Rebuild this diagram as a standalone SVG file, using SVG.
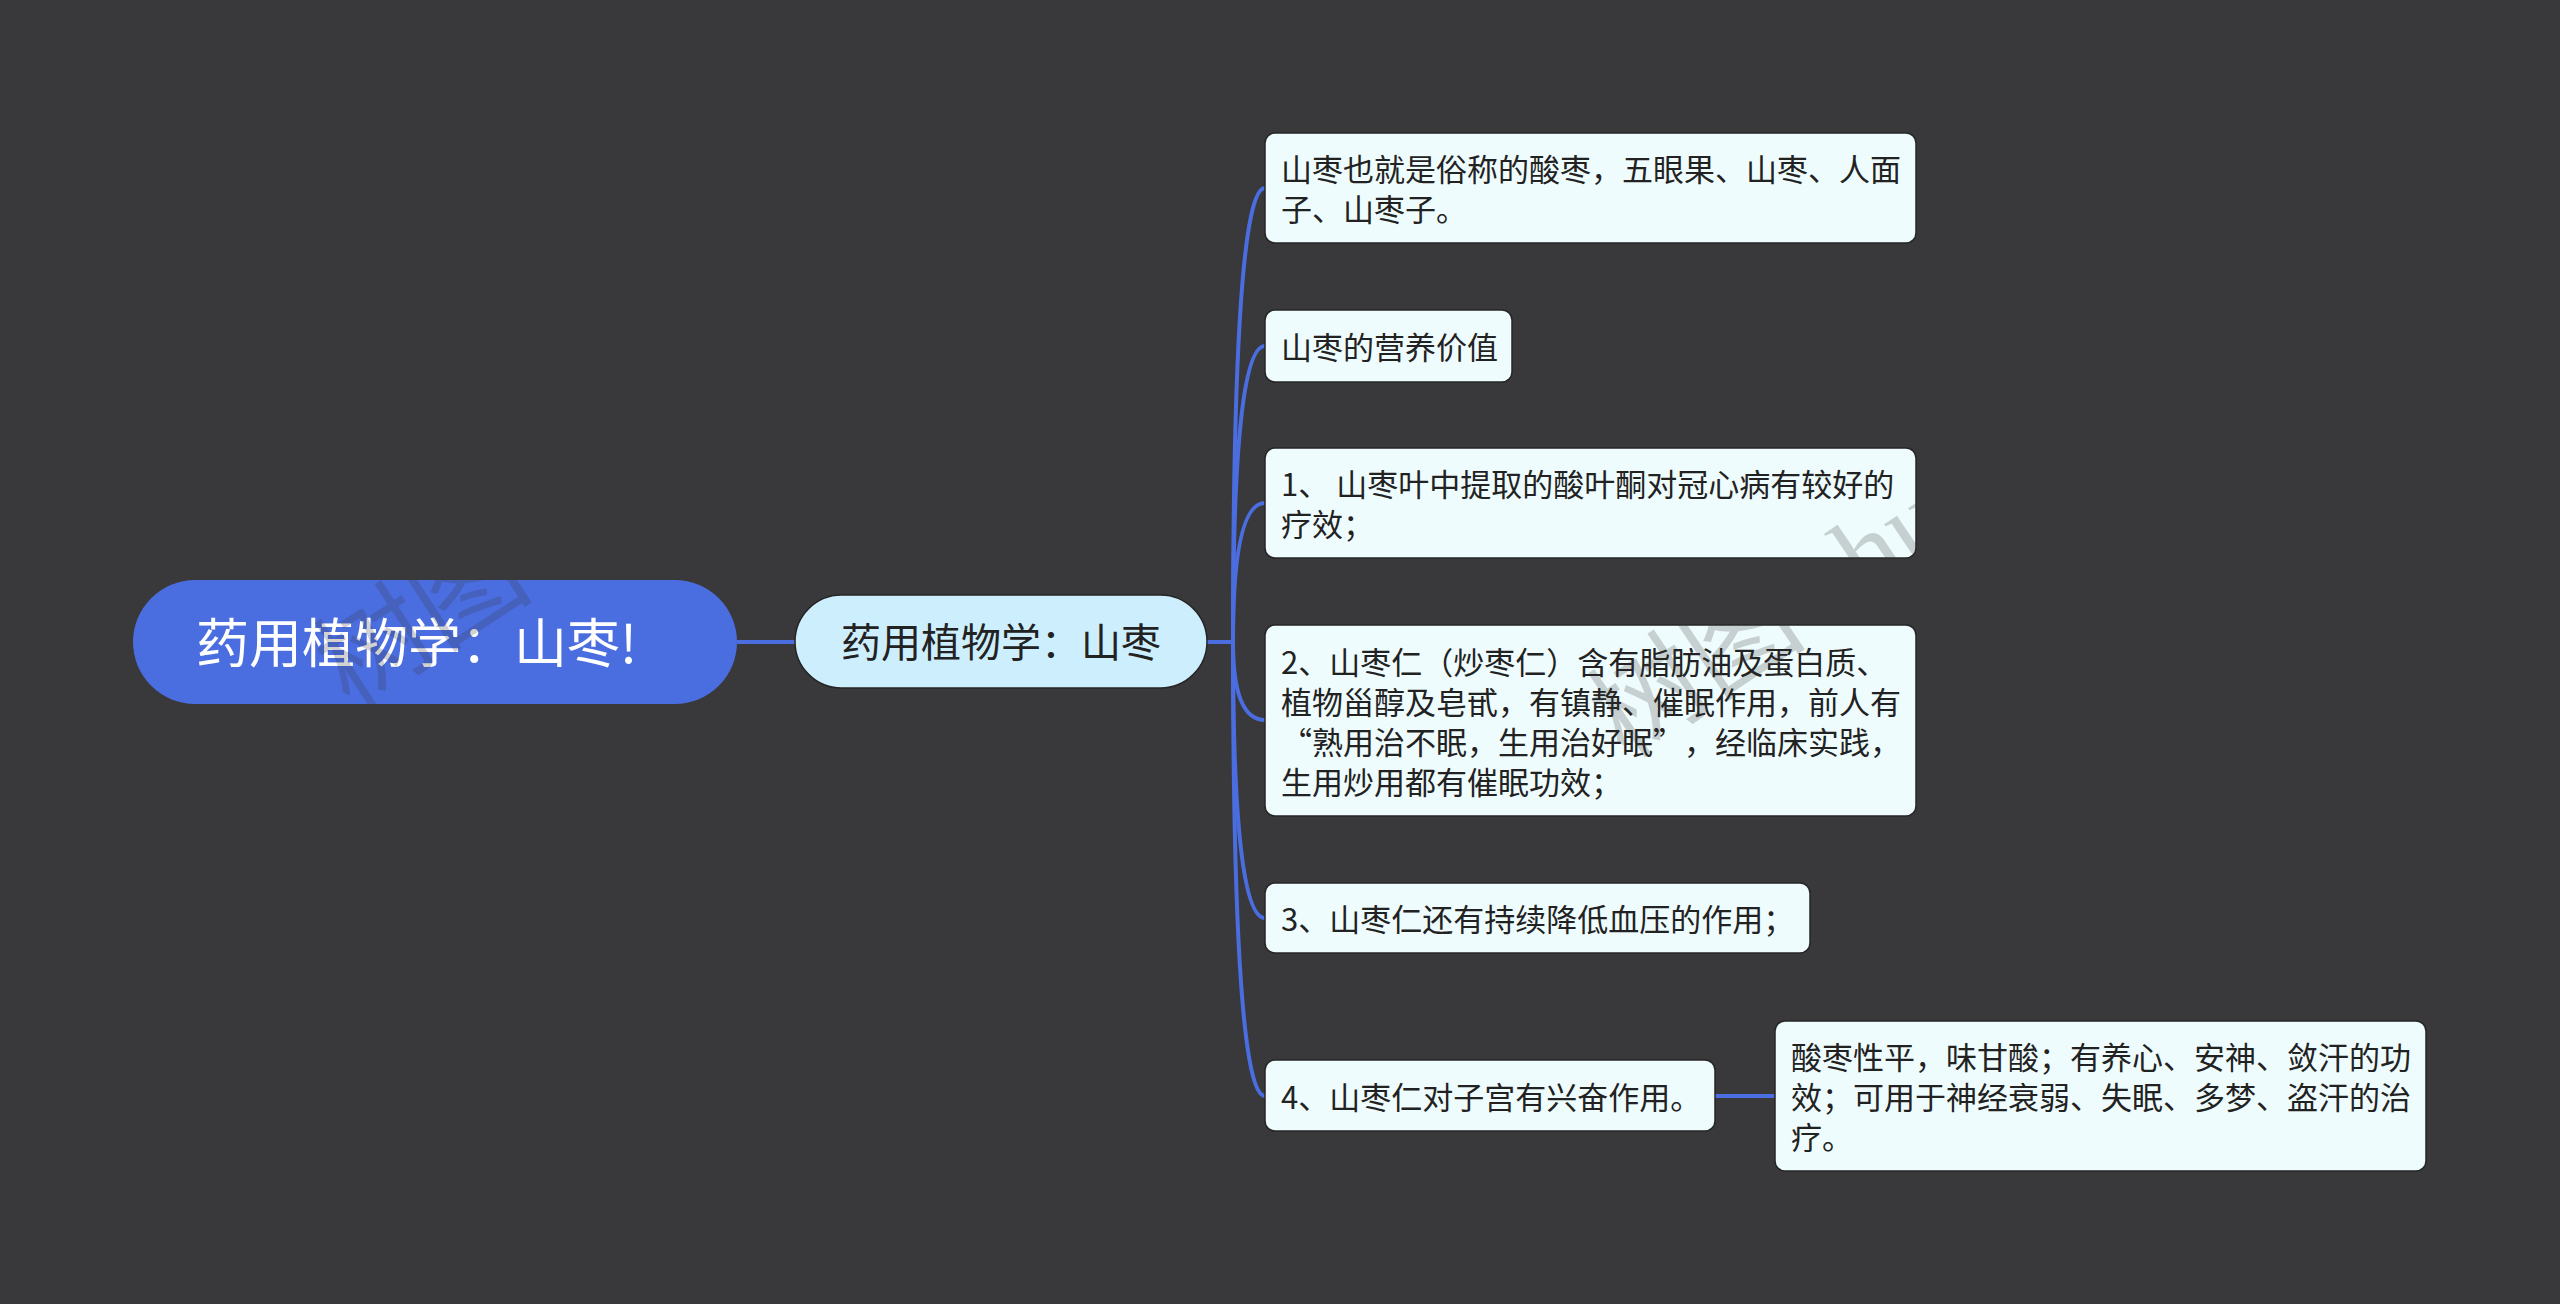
<svg xmlns="http://www.w3.org/2000/svg" width="2560" height="1304" viewBox="0 0 2560 1304">
<style>
.bg{fill:#39383a}
.conn path{fill:none;stroke:#4a6de0;stroke-width:4}
.leaf rect{fill:#effcfd;stroke:#262626;stroke-width:1.5}
text{font-family:"Noto Sans CJK SC","Noto Sans",sans-serif}
.leaf text{font-size:31px;fill:#222}
.wm{font-family:"Liberation Serif","Noto Sans CJK SC",serif;font-size:110px;fill:#39383a;opacity:0.22}
</style>
<rect class="bg" x="0" y="0" width="2560" height="1304"/>
<g id="connectors" class="conn">
<path d="M737,642 L795,642"/>
<path d="M1207,642 L1233,642"/>
<path d="M1233,642 Q1233,188 1265,188"/>
<path d="M1233,642 Q1233,346 1265,346"/>
<path d="M1233,642 Q1233,503 1265,503"/>
<path d="M1233,642 Q1233,720 1265,720"/>
<path d="M1233,642 Q1233,918 1265,918"/>
<path d="M1233,642 Q1233,1096 1265,1096"/>
<path d="M1715,1096 L1775,1096"/>
</g>
<g id="root">
<rect x="133" y="580" width="604" height="124" rx="62" fill="#4a6de0"/>
<text x="196" y="663" font-size="53" fill="#ffffff">药用植物学：山枣!</text>
</g>
<g id="main">
<rect x="795" y="595" width="412" height="93" rx="46.5" fill="#cdeefd" stroke="#262626" stroke-width="1.5"/>
<text x="1001" y="657" font-size="40" fill="#222" text-anchor="middle">药用植物学：山枣</text>
</g>
<g id="leaf1" class="leaf">
<rect x="1265" y="133" width="651" height="110" rx="10"/>
<text x="1281" y="181">山枣也就是俗称的酸枣，五眼果、山枣、人面</text>
<text x="1281" y="221">子、山枣子。</text>
</g>
<g id="leaf2" class="leaf">
<rect x="1265" y="310" width="247" height="72" rx="10"/>
<text x="1281" y="359">山枣的营养价值</text>
</g>
<g id="leaf3" class="leaf">
<rect x="1265" y="448" width="651" height="110" rx="10"/>
<text x="1281" y="496">1、 山枣叶中提取的酸叶酮对冠心病有较好的</text>
<text x="1281" y="536">疗效；</text>
</g>
<g id="leaf4" class="leaf">
<rect x="1265" y="625" width="651" height="191" rx="10"/>
<text x="1281" y="674">2、山枣仁（炒枣仁）含有脂肪油及蛋白质、</text>
<text x="1281" y="714">植物甾醇及皂甙，有镇静、催眠作用，前人有</text>
<text y="754"><tspan x="1281">“</tspan><tspan x="1312">熟用治不眠，生用治好眠</tspan><tspan x="1653">”</tspan><tspan x="1684">，经临床实践，</tspan></text>
<text x="1281" y="794">生用炒用都有催眠功效；</text>
</g>
<g id="leaf5" class="leaf">
<rect x="1265" y="883" width="545" height="70" rx="10"/>
<text x="1281" y="931">3、山枣仁还有持续降低血压的作用；</text>
</g>
<g id="leaf6" class="leaf">
<rect x="1265" y="1060" width="450" height="71" rx="10"/>
<text x="1281" y="1109">4、山枣仁对子宫有兴奋作用。</text>
</g>
<g id="leaf7" class="leaf">
<rect x="1775" y="1021" width="651" height="150" rx="10"/>
<text x="1791" y="1069">酸枣性平，味甘酸；有养心、安神、敛汗的功</text>
<text x="1791" y="1109">效；可用于神经衰弱、失眠、多梦、盗汗的治</text>
<text x="1791" y="1149">疗。</text>
</g>
<g id="watermarks">
<text class="wm" transform="translate(350,710) rotate(-33)">树图 shutu.cn</text>
<text class="wm" transform="translate(1625,760) rotate(-34)">树图 shutu.cn</text>
</g>
</svg>
